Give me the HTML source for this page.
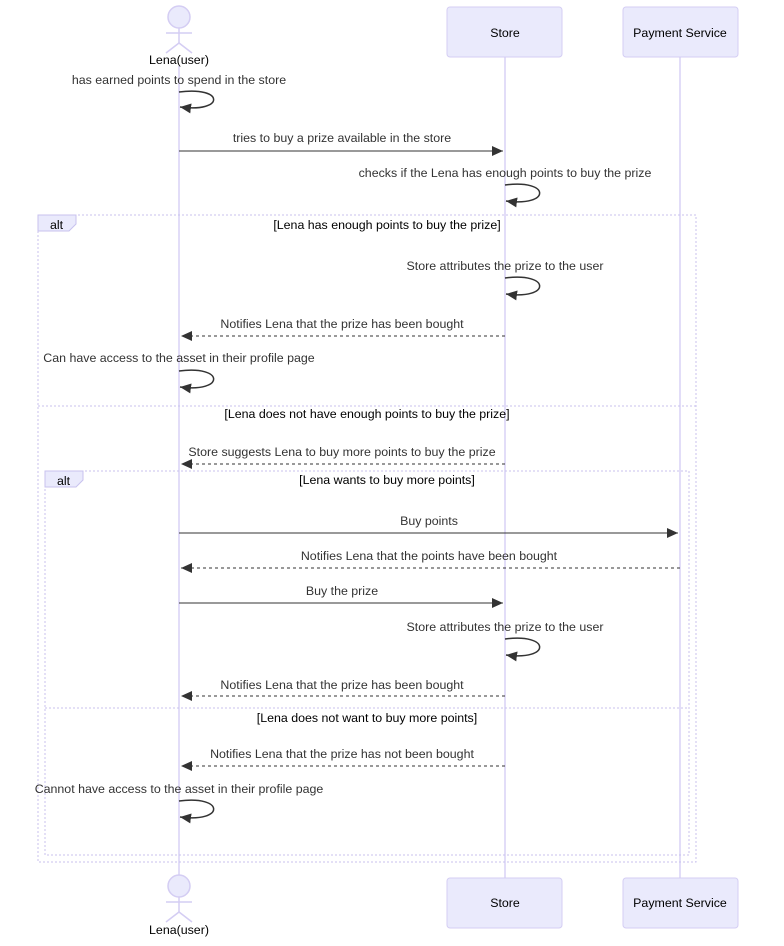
<!DOCTYPE html>
<html><head><style>body{margin:0;background:#fff}svg{display:block}text{font-family:"Liberation Sans",sans-serif;font-size:12.4px}</style></head><body>
<svg width="784" height="946" viewBox="0 0 784 946" xmlns="http://www.w3.org/2000/svg">
<defs><marker id="a" markerWidth="12" markerHeight="12" refX="11" refY="5" orient="auto" markerUnits="userSpaceOnUse"><path d="M0,0 L11,5 L0,10 z" fill="#333"/></marker></defs>
<g stroke="#d9d2f5" stroke-width="1.5"><line x1="179" y1="66" x2="179" y2="878"/><line x1="505" y1="57" x2="505" y2="878"/><line x1="680" y1="57" x2="680" y2="878"/></g>
<g fill="#eaeafc" stroke="#d4cdf3"><rect x="447" y="7" width="115" height="50" rx="3"/><rect x="623" y="7" width="115" height="50" rx="3"/><rect x="447" y="878" width="115" height="50" rx="3"/><rect x="623" y="878" width="115" height="50" rx="3"/></g>
<g fill="#000" text-anchor="middle"><text x="505" y="37">Store</text><text x="680" y="37">Payment Service</text><text x="505" y="907">Store</text><text x="680" y="907">Payment Service</text><text x="179" y="64">Lena(user)</text><text x="179" y="934">Lena(user)</text></g>
<g fill="#eaeafc" stroke="#d4cdf3" stroke-width="1.5"><circle cx="179" cy="17" r="11"/><line x1="179" y1="28" x2="179" y2="43"/><line x1="166" y1="33" x2="192" y2="33"/><path d="M166,53 L179,43 L192,53" fill="none"/>
<circle cx="179" cy="886" r="11"/><line x1="179" y1="897" x2="179" y2="912"/><line x1="166" y1="902" x2="192" y2="902"/><path d="M166,922 L179,912 L192,922" fill="none"/></g>
<g fill="none" stroke="#c8c2ee" stroke-dasharray="2,2"><rect x="38" y="215" width="658" height="647"/><line x1="38" y1="406" x2="696" y2="406"/><rect x="45" y="471" width="644" height="384"/><line x1="45" y1="708" x2="689" y2="708"/></g>
<g fill="#eaeafc" stroke="#c8c2ee"><path d="M38,215 H76 V224 L69,231 H38 Z"/><path d="M45,471 H83 V480 L76,487 H45 Z"/></g>
<g fill="#000"><text x="50" y="229">alt</text><text x="57" y="485">alt</text></g>
<g fill="#000" text-anchor="middle"><text x="387" y="229">[Lena has enough points to buy the prize]</text><text x="367" y="418">[Lena does not have enough points to buy the prize]</text><text x="387" y="484">[Lena wants to buy more points]</text><text x="367" y="722">[Lena does not want to buy more points]</text></g>
<g fill="#333" text-anchor="middle">
<text x="179" y="84">has earned points to spend in the store</text>
<text x="342" y="142">tries to buy a prize available in the store</text>
<text x="505" y="177">checks if the Lena has enough points to buy the prize</text>
<text x="505" y="270">Store attributes the prize to the user</text>
<text x="342" y="328">Notifies Lena that the prize has been bought</text>
<text x="179" y="362">Can have access to the asset in their profile page</text>
<text x="342" y="456">Store suggests Lena to buy more points to buy the prize</text>
<text x="429" y="525">Buy points</text>
<text x="429" y="560">Notifies Lena that the points have been bought</text>
<text x="342" y="595">Buy the prize</text>
<text x="505" y="631">Store attributes the prize to the user</text>
<text x="342" y="689">Notifies Lena that the prize has been bought</text>
<text x="342" y="758">Notifies Lena that the prize has not been bought</text>
<text x="179" y="793">Cannot have access to the asset in their profile page</text>
</g>
<g fill="none" stroke="#333" stroke-width="1.5" marker-end="url(#a)">
<path d="M179,92 C225,86 225,113 180,107"/>
<path d="M505,185 C551,179 551,207 506,201"/>
<path d="M505,278 C551,272 551,300 506,294"/>
<path d="M179,371 C225,365 225,393 180,387"/>
<path d="M505,639 C551,633 551,661 506,655"/>
<path d="M179,801 C225,795 225,823 180,817"/>
</g>
<g stroke="#333" stroke-width="1" marker-end="url(#a)" fill="none">
<line x1="179" y1="151" x2="503" y2="151"/>
<line x1="179" y1="533" x2="678" y2="533"/>
<line x1="179" y1="603" x2="503" y2="603"/>
<g stroke-dasharray="3,3"><line x1="505" y1="336" x2="181" y2="336"/><line x1="505" y1="464" x2="181" y2="464"/><line x1="680" y1="568" x2="181" y2="568"/><line x1="505" y1="696" x2="181" y2="696"/><line x1="505" y1="766" x2="181" y2="766"/></g>
</g>
</svg>
</body></html>
